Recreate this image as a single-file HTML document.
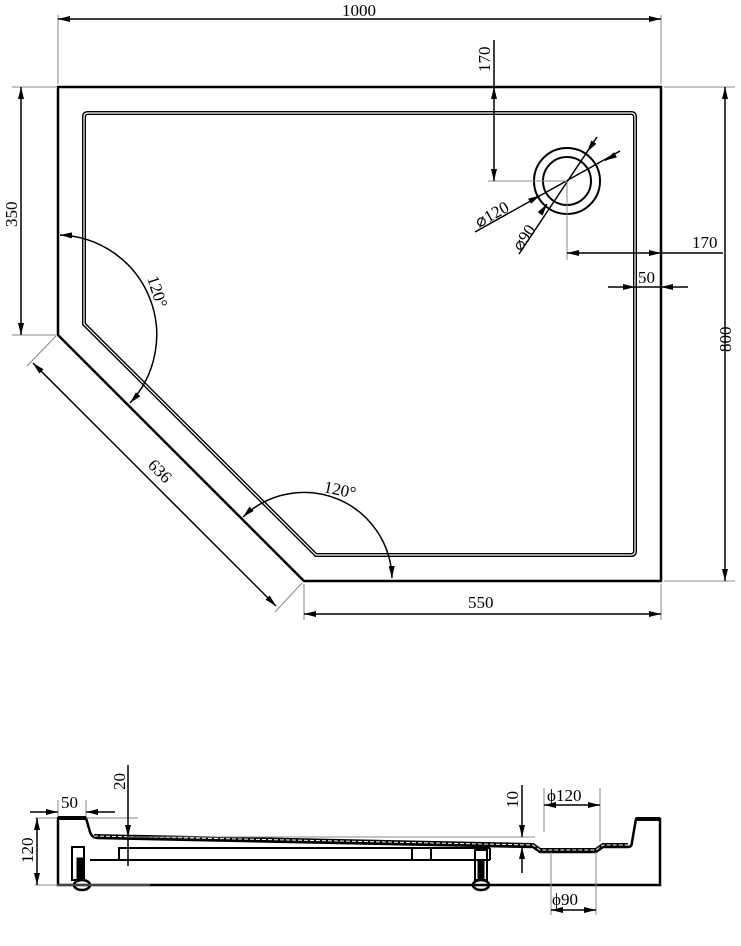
<!DOCTYPE html>
<html><head><meta charset="utf-8"><style>body{margin:0;background:#fff}svg{display:block}text{font-family:"Liberation Serif",serif;font-size:17px;fill:#000}</style></head><body>
<svg width="741" height="946" viewBox="0 0 741 946" xmlns="http://www.w3.org/2000/svg">
<defs>
<marker id="a" viewBox="0 0 12 6" refX="12" refY="3" markerWidth="12" markerHeight="6" markerUnits="userSpaceOnUse" orient="auto-start-reverse"><path d="M0,0 L12,3 L0,6 z" fill="#000"/></marker>
</defs>
<g fill="none" stroke="#000">
<path d="M58,87 L661,87 L661,581 L304,581 L58,335 Z" stroke-width="2.5"/>
<path d="M84,324 L84,117 Q84,113 88,113 L631,113 Q635,113 635,117 L635,551 Q635,555 631,555 L316,555 Z" stroke-width="4"/>
<path d="M84,324 L84,117 Q84,113 88,113 L631,113 Q635,113 635,117 L635,551 Q635,555 631,555 L316,555 Z" stroke="#fff" stroke-width="1.2"/>
<circle cx="567" cy="181" r="33" stroke-width="2"/>
<circle cx="567" cy="181" r="24" stroke-width="2"/>
<g stroke-width="1.5">
<line x1="475" y1="232" x2="620" y2="151"/>
<line x1="519" y1="254" x2="597" y2="137"/>
</g>
<path d="M530,201 l10,-5.5" marker-end="url(#a)" stroke-width="1.5"/>
<path d="M615,155 l-10,5.5" marker-end="url(#a)" stroke-width="1.5"/>
<path d="M540,214 l7,-10" marker-end="url(#a)" stroke-width="1.5"/>
<path d="M594,142 l-7,10" marker-end="url(#a)" stroke-width="1.5"/>
<g stroke="#888" stroke-width="1">
<line x1="488" y1="181" x2="567" y2="181"/>
<line x1="567" y1="181" x2="567" y2="260"/>
<line x1="58" y1="15" x2="58" y2="84"/>
<line x1="661" y1="15" x2="661" y2="84"/>
<line x1="12" y1="87" x2="56" y2="87"/>
<line x1="12" y1="335" x2="56" y2="335"/>
<line x1="664" y1="87" x2="735" y2="87"/>
<line x1="664" y1="581" x2="735" y2="581"/>
<line x1="304" y1="584" x2="304" y2="620"/>
<line x1="661" y1="584" x2="661" y2="620"/>
<line x1="56" y1="336" x2="27" y2="366"/>
<line x1="302" y1="583" x2="275" y2="612"/>
</g>
<g stroke-width="1.5">
<line x1="58" y1="19" x2="661" y2="19" marker-start="url(#a)" marker-end="url(#a)"/>
<line x1="21" y1="87" x2="21" y2="335" marker-start="url(#a)" marker-end="url(#a)"/>
<line x1="725" y1="87" x2="725" y2="581" marker-start="url(#a)" marker-end="url(#a)"/>
<line x1="304" y1="614" x2="661" y2="614" marker-start="url(#a)" marker-end="url(#a)"/>
<line x1="33" y1="363" x2="276" y2="606" marker-start="url(#a)" marker-end="url(#a)"/>
<line x1="494" y1="40" x2="494" y2="87"/>
<line x1="494" y1="87" x2="494" y2="181" marker-start="url(#a)" marker-end="url(#a)"/>
<line x1="567" y1="253" x2="661" y2="253" marker-start="url(#a)" marker-end="url(#a)"/>
<line x1="661" y1="253" x2="723" y2="253"/>
<path d="M608,287 L635,287" marker-end="url(#a)"/>
<path d="M688,287 L661,287" marker-end="url(#a)"/>
<line x1="635" y1="287" x2="661" y2="287"/>
<path d="M60,235 A100,100 0 0 1 130,403" marker-start="url(#a)" marker-end="url(#a)"/>
<path d="M243,517 A88,88 0 0 1 392,578" marker-start="url(#a)" marker-end="url(#a)"/>
</g>
</g>
<text x="342" y="16">1000</text>
<text transform="translate(17,227) rotate(-90)">350</text>
<text transform="translate(731,352) rotate(-90)">800</text>
<text transform="translate(490,72) rotate(-90)">170</text>
<text x="692" y="248">170</text>
<text x="638" y="283">50</text>
<text x="468" y="608">550</text>
<text transform="translate(147,466) rotate(45)">636</text>
<text transform="translate(147,278) rotate(72)">120°</text>
<text transform="translate(323,492) rotate(12)">120°</text>
<text transform="translate(479,228) rotate(-29)" font-size="15">⌀120</text>
<text transform="translate(521,252) rotate(-56)" font-size="15">⌀90</text>

<g fill="none" stroke="#000">
<path d="M58,885 L58,818 L86,818 L90,832 Q92,838 98,838 L533,847 L540,852 L555,852 L596,852 L603,847 L628,847 Q632,847 632,842 L636,819 L660,819 L660,885 Z" stroke-width="2.5"/>
<path d="M58,818 L86,818" stroke-width="4"/>
<path d="M636,819 L660,819" stroke-width="4"/>
<path d="M94,836 L533,845 L540,850 L596,850 L603,845 L628,845" stroke-width="4"/>
<path d="M94,836 L533,845 L540,850 L596,850 L603,845 L628,845" stroke="#fff" stroke-width="1" stroke-dasharray="4,2"/>
<g stroke-width="2">
<path d="M119,860 L119,848 L490,848"/>
<line x1="90" y1="860" x2="490" y2="860"/>
<line x1="412" y1="848" x2="412" y2="860"/>
<line x1="431" y1="848" x2="431" y2="860"/>
<line x1="490" y1="848" x2="490" y2="860"/>
<rect x="72" y="847" width="12" height="33"/>
<rect x="475" y="850" width="12" height="30"/>
</g>
<rect x="77" y="858" width="6" height="22" fill="#000"/>
<rect x="478" y="860" width="6" height="20" fill="#000"/>
<ellipse cx="82" cy="885" rx="8" ry="5" stroke-width="2.5"/>
<ellipse cx="481" cy="885" rx="8" ry="5" stroke-width="2.5"/>
<g stroke="#888" stroke-width="1">
<line x1="35" y1="818" x2="56" y2="818"/>
<line x1="35" y1="885" x2="150" y2="885"/>
<line x1="86" y1="818" x2="138" y2="818"/>
<line x1="128" y1="837" x2="535" y2="837"/>
<line x1="544" y1="788" x2="544" y2="832"/>
<line x1="600" y1="788" x2="600" y2="842"/>
<line x1="551" y1="852" x2="551" y2="915"/>
<line x1="596" y1="852" x2="596" y2="915"/>
<line x1="58" y1="800" x2="58" y2="816"/>
<line x1="86" y1="800" x2="86" y2="816"/>
</g>
<g stroke-width="1.5">
<path d="M30,812 L58,812" marker-end="url(#a)"/>
<path d="M115,812 L86,812" marker-end="url(#a)"/>
<line x1="37" y1="818" x2="37" y2="885" marker-start="url(#a)" marker-end="url(#a)"/>
<path d="M128,765 L128,837" marker-end="url(#a)"/>
<path d="M128,866 L128,839"/>
<path d="M522,785 L522,837" marker-end="url(#a)"/>
<path d="M522,873 L522,847" marker-end="url(#a)"/>
<line x1="544" y1="805" x2="600" y2="805" marker-start="url(#a)" marker-end="url(#a)"/>
<line x1="551" y1="910" x2="596" y2="910" marker-start="url(#a)" marker-end="url(#a)"/>
</g>
</g>
<text x="61" y="808">50</text>
<text transform="translate(33,863) rotate(-90)">120</text>
<text transform="translate(125,790) rotate(-90)">20</text>
<text transform="translate(518,808) rotate(-90)">10</text>
<text x="547" y="801">ϕ120</text>
<text x="552" y="905">ϕ90</text>
</svg>
</body></html>
